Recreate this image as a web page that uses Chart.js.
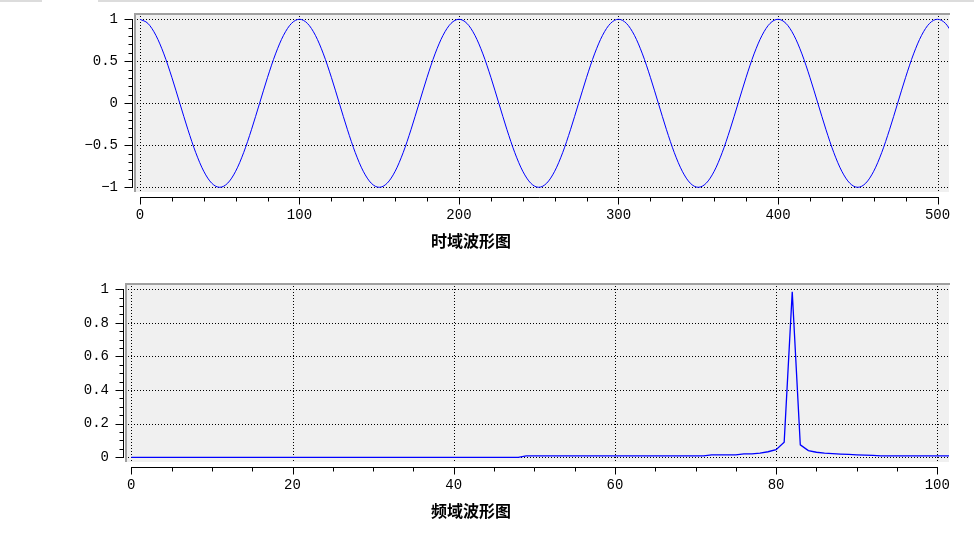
<!DOCTYPE html>
<html>
<head>
<meta charset="utf-8">
<script src="https://cdn.jsdelivr.net/npm/chart.js@4.4.0/dist/chart.umd.min.js"></script>
<style>
    html, body { margin: 0; padding: 0; background: #fff; width: 974px; height: 535px; overflow: hidden; }
    body { position: relative; }
    .box { position: absolute; left: 0; width: 974px; }
    .box canvas { display: block; }
    .ttl { position: absolute; font: bold 16px "Noto Sans CJK SC"; line-height: 16px; color: #000; transform: translateX(-50%); white-space: nowrap; }
    .strip { position: absolute; top: 0; height: 2px; background: #dcdcdc; }
</style>
</head>
<body>
<div class="strip" style="left:0;width:42px"></div>
<div class="strip" style="left:98px;width:876px"></div>
<div class="box" style="top:0;height:260px"><canvas id="timeChart" width="974" height="260"></canvas></div>
<div class="box" style="top:260px;height:275px"><canvas id="freqChart" width="974" height="275"></canvas></div>
<div class="ttl" style="left:471px;top:232px">时域波形图</div>
<div class="ttl" style="left:471px;top:502px">频域波形图</div>
<script>
// time domain samples
const timeX = [0, 5, 10, 15, 20, 25, 30, 35, 40, 45, 50, 55, 60, 65, 70, 75, 80, 85, 90, 95,
    100, 105, 110, 115, 120, 125, 130, 135, 140, 145, 150, 155, 160, 165, 170, 175, 180, 185, 190, 195,
    200, 205, 210, 215, 220, 225, 230, 235, 240, 245, 250, 255, 260, 265, 270, 275, 280, 285, 290, 295,
    300, 305, 310, 315, 320, 325, 330, 335, 340, 345, 350, 355, 360, 365, 370, 375, 380, 385, 390, 395,
    400, 405, 410, 415, 420, 425, 430, 435, 440, 445, 450, 455, 460, 465, 470, 475, 480, 485, 490, 495,
    500, 505, 510];
const timeY = [1, 0.951, 0.809, 0.588, 0.309, 0, -0.309, -0.588, -0.809, -0.951, -1, -0.951, -0.809, -0.588, -0.309, 0, 0.309, 0.588, 0.809, 0.951,
    1, 0.951, 0.809, 0.588, 0.309, 0, -0.309, -0.588, -0.809, -0.951, -1, -0.951, -0.809, -0.588, -0.309, 0, 0.309, 0.588, 0.809, 0.951,
    1, 0.951, 0.809, 0.588, 0.309, 0, -0.309, -0.588, -0.809, -0.951, -1, -0.951, -0.809, -0.588, -0.309, 0, 0.309, 0.588, 0.809, 0.951,
    1, 0.951, 0.809, 0.588, 0.309, 0, -0.309, -0.588, -0.809, -0.951, -1, -0.951, -0.809, -0.588, -0.309, 0, 0.309, 0.588, 0.809, 0.951,
    1, 0.951, 0.809, 0.588, 0.309, 0, -0.309, -0.588, -0.809, -0.951, -1, -0.951, -0.809, -0.588, -0.309, 0, 0.309, 0.588, 0.809, 0.951,
    1, 0.951, 0.809];

// spectrum
const freqX = [0, 1, 2, 3, 4, 5, 6, 7, 8, 9, 10, 11, 12, 13, 14, 15, 16, 17, 18, 19,
    20, 21, 22, 23, 24, 25, 26, 27, 28, 29, 30, 31, 32, 33, 34, 35, 36, 37, 38, 39,
    40, 41, 42, 43, 44, 45, 46, 47, 48, 49, 50, 51, 52, 53, 54, 55, 56, 57, 58, 59,
    60, 61, 62, 63, 64, 65, 66, 67, 68, 69, 70, 71, 72, 73, 74, 75, 76, 77, 78, 79,
    80, 81, 82, 83, 84, 85, 86, 87, 88, 89, 90, 91, 92, 93, 94, 95, 96, 97, 98, 99,
    100, 101, 102];
const freqY = [0, 0, 0, 0, 0, 0, 0, 0, 0, 0, 0, 0, 0, 0, 0, 0, 0, 0, 0, 0,
    0, 0, 0, 0, 0, 0, 0, 0, 0, 0, 0, 0, 0, 0, 0, 0, 0, 0, 0, 0,
    0, 0, 0, 0, 0, 0, 0, 0, 0, 0.008, 0.008, 0.008, 0.008, 0.008, 0.008, 0.008, 0.008, 0.008, 0.008, 0.008,
    0.008, 0.008, 0.008, 0.008, 0.008, 0.008, 0.008, 0.008, 0.008, 0.008, 0.008, 0.008, 0.014, 0.014, 0.014, 0.014, 0.02, 0.02, 0.025, 0.033,
    0.045, 0.09, 0.985, 0.074, 0.04, 0.03, 0.025, 0.022, 0.019, 0.017, 0.015, 0.013, 0.011, 0.009, 0.009, 0.009, 0.009, 0.009, 0.009, 0.009,
    0.009, 0.009, 0.009];

// tick values and labels
const timeTicksX = [0, 100, 200, 300, 400, 500];
const timeTicksY = [-1, -0.5, 0, 0.5, 1];
const timeLabelsY = ['\u22121', '\u22120.5', '0', '0.5', '1'];
const freqTicksX = [0, 20, 40, 60, 80, 100];
const freqTicksY = [0, 0.2, 0.4, 0.6, 0.8, 1];
const freqLabelsY = ['0', '0.2', '0.4', '0.6', '0.8', '1'];

const tickFont = { family: 'Liberation Mono', size: 14 };

// plot background, dotted grid, detached axes with minor ticks
const framePlugin = {
    id: 'frame',
    beforeDraw(chart, args, o) {
        const { ctx, chartArea: a, scales: { x, y } } = chart;
        ctx.save();
        ctx.fillStyle = '#f0f0f0';
        ctx.fillRect(a.left, a.top, a.right - a.left, a.bottom - a.top);
        ctx.fillStyle = '#a0a0a0';
        ctx.fillRect(a.left - 1, a.top - 1, a.right - a.left + 2, 2);
        ctx.fillRect(a.left - 1, a.top - 1, 2, a.bottom - a.top + 1);

        ctx.strokeStyle = '#000';
        ctx.lineWidth = 1;
        ctx.setLineDash([1, 2]);
        ctx.beginPath();
        x.ticks.forEach(t => {
            const px = Math.round(x.getPixelForValue(t.value)) + 0.5;
            ctx.moveTo(px, a.top + 2);
            ctx.lineTo(px, a.bottom);
        });
        y.ticks.forEach(t => {
            const py = Math.round(y.getPixelForValue(t.value)) + 0.5;
            ctx.moveTo(a.left + 2, py);
            ctx.lineTo(a.right, py);
        });
        ctx.stroke();
        ctx.setLineDash([]);

        const ax = Math.round(a.left - o.gapY) + 0.5;
        const ay = Math.round(a.bottom + o.gapX) + 0.5;
        const xs = x.ticks.map(t => t.value), ys = y.ticks.map(t => t.value);
        const x0 = xs[0], x1 = xs[xs.length - 1], y0 = ys[0], y1 = ys[ys.length - 1];
        ctx.beginPath();
        ctx.moveTo(ax, Math.round(y.getPixelForValue(y1)));
        ctx.lineTo(ax, Math.round(y.getPixelForValue(y0)) + 1);
        ctx.moveTo(Math.round(x.getPixelForValue(x0)), ay);
        ctx.lineTo(Math.round(x.getPixelForValue(x1)) + 1, ay);
        const ny = Math.round((y1 - y0) / o.minorY);
        for (let i = 0; i <= ny; i++) {
            const v = y0 + i * o.minorY;
            const len = ys.some(m => Math.abs(m - v) < 1e-6) ? 8 : 4;
            const py = Math.round(y.getPixelForValue(v)) + 0.5;
            ctx.moveTo(ax, py);
            ctx.lineTo(ax - len, py);
        }
        const nx = Math.round((x1 - x0) / o.minorX);
        for (let i = 0; i <= nx; i++) {
            const v = x0 + i * o.minorX;
            const len = xs.some(m => Math.abs(m - v) < 1e-6) ? 7 : 4;
            const px = Math.round(x.getPixelForValue(v)) + 0.5;
            ctx.moveTo(px, ay);
            ctx.lineTo(px, ay + len);
        }
        ctx.stroke();
        ctx.restore();
    }
};

function makeChart(id, s) {
    const ctx = document.getElementById(id).getContext('2d');
    return new Chart(ctx, {
        type: 'line',
        data: {
            datasets: [{
                data: s.xs.map((v, i) => ({ x: v, y: s.ys[i] })),
                borderColor: '#0000ff',
                borderWidth: s.lineWidth,
                pointRadius: 0,
                tension: s.tension,
                cubicInterpolationMode: s.tension ? 'monotone' : 'default',
                fill: false
            }]
        },
        options: {
            responsive: false,
            animation: false,
            devicePixelRatio: 1,
            layout: { padding: { left: 0, right: 25, top: s.top, bottom: 0 } },
            plugins: {
                legend: { display: false },
                tooltip: { enabled: false },
                frame: { gapX: s.gapX, gapY: s.gapY, minorX: s.minorX, minorY: s.minorY }
            },
            scales: {
                x: {
                    type: 'linear',
                    min: s.xMin,
                    max: s.xMax,
                    afterBuildTicks: sc => { sc.ticks = s.ticksX.map(v => ({ value: v })); },
                    afterFit: sc => { sc.height = s.xHeight; },
                    // tick marks themselves are drawn by the frame plugin; tickLength only spaces the labels
                    grid: { display: false, drawTicks: true, tickLength: 15 },
                    border: { display: false },
                    ticks: { font: tickFont, color: '#000', padding: 0, maxRotation: 0, autoSkip: false,
                        callback: v => String(v) }
                },
                y: {
                    type: 'linear',
                    min: s.yMin,
                    max: s.yMax,
                    afterBuildTicks: sc => { sc.ticks = s.ticksY.map(v => ({ value: v })); },
                    afterFit: sc => { sc.width = s.yWidth; },
                    grid: { display: false, drawTicks: true, tickLength: 17 },
                    border: { display: false },
                    ticks: { font: tickFont, color: '#000', padding: 0, autoSkip: false,
                        callback: v => s.labelsY[s.ticksY.indexOf(v)] }
                }
            }
        },
        plugins: [framePlugin]
    });
}

makeChart('timeChart', {
    xs: timeX, ys: timeY, ticksX: timeTicksX, ticksY: timeTicksY, labelsY: timeLabelsY,
    xMin: -3.1, xMax: 507.2, yMin: -1.056, yMax: 1.063,
    top: 14, xHeight: 68, yWidth: 135, gapX: 4.5, gapY: 3.5,
    minorX: 20, minorY: 0.1, lineWidth: 1, tension: 0.4
});

makeChart('freqChart', {
    xs: freqX, ys: freqY, ticksX: freqTicksX, ticksY: freqTicksY, labelsY: freqLabelsY,
    xMin: -0.66, xMax: 101.45, yMin: -0.028, yMax: 1.0315,
    top: 24, xHeight: 73, yWidth: 126, gapX: 4.5, gapY: 3.5,
    minorX: 5, minorY: 0.05, lineWidth: 1.3, tension: 0
});
</script>
</body>
</html>
